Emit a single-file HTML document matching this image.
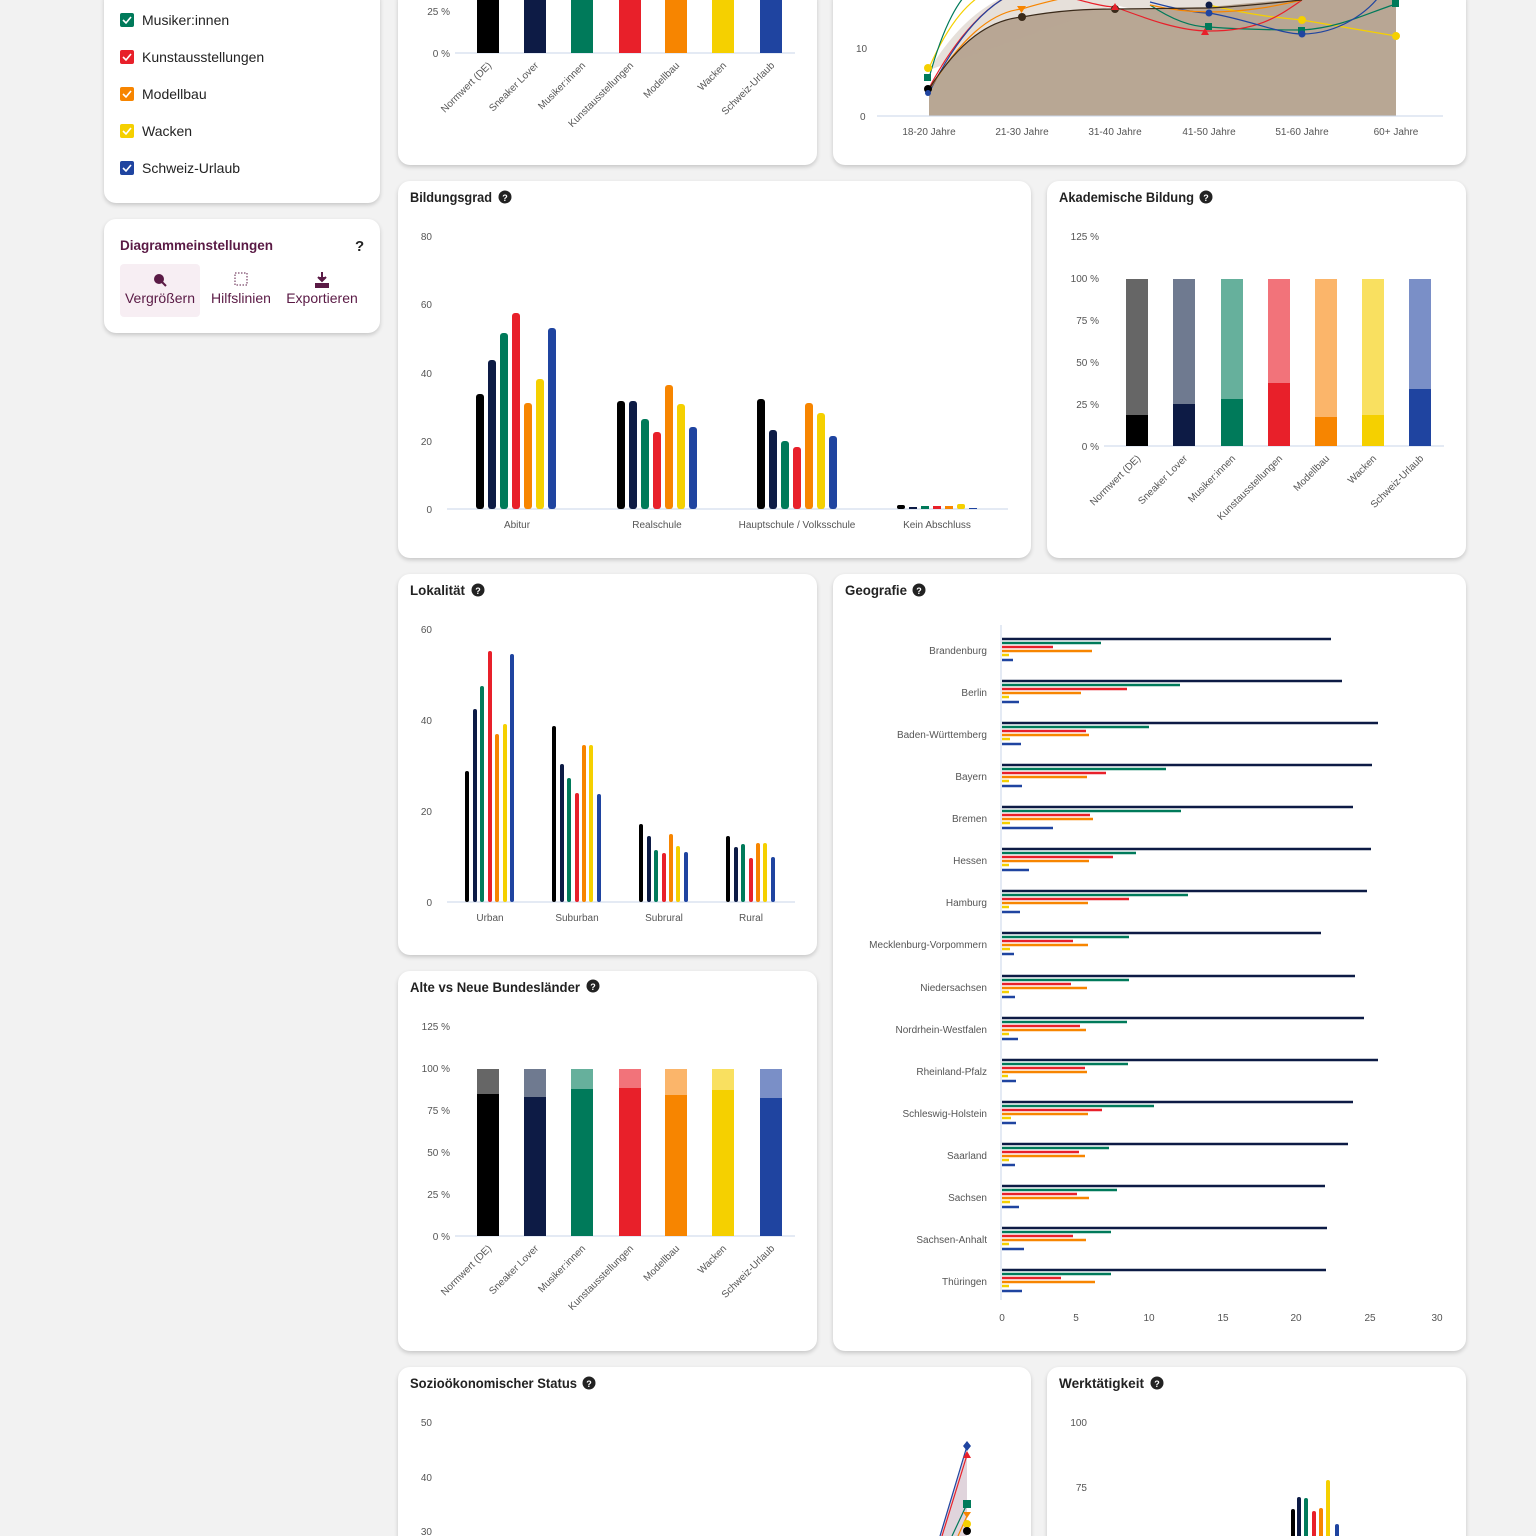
<!DOCTYPE html>
<html style="width:1536px;height:1536px;overflow:hidden"><head><meta charset="utf-8"><style>
body{margin:0;width:1536px;height:1536px;background:#f2f2f2;position:relative;overflow:hidden;font-family:"Liberation Sans",sans-serif}
.c{position:absolute;background:#fff;border-radius:12px;box-shadow:0 2px 4px rgba(0,0,0,.18)}
svg{position:absolute;left:0;top:0}
text{font-family:"Liberation Sans",sans-serif}
.ax{font-size:10px;fill:#555}
.t{font-size:13.5px;font-weight:bold;fill:#222}
</style></head><body>
<div class="c" style="left:104px;top:-12px;width:276px;height:215px"></div>
<div class="c" style="left:104px;top:219px;width:276px;height:114px"></div>
<div class="c" style="left:398px;top:-12px;width:419px;height:177px"></div>
<div class="c" style="left:833px;top:-12px;width:633px;height:177px"></div>
<div class="c" style="left:398px;top:181px;width:633px;height:377px"></div>
<div class="c" style="left:1047px;top:181px;width:419px;height:377px"></div>
<div class="c" style="left:398px;top:574px;width:419px;height:381px"></div>
<div class="c" style="left:398px;top:971px;width:419px;height:380px"></div>
<div class="c" style="left:833px;top:574px;width:633px;height:777px"></div>
<div class="c" style="left:398px;top:1367px;width:633px;height:190px"></div>
<div class="c" style="left:1047px;top:1367px;width:419px;height:190px"></div>
<svg width="1536" height="1536" viewBox="0 0 1536 1536">
<!-- legend -->
<g font-size="14" fill="#222">
<rect x="120" y="13" width="14" height="14" rx="2" fill="#007a5a"/><text x="142" y="25">Musiker:innen</text>
<rect x="120" y="50" width="14" height="14" rx="2" fill="#e8202a"/><text x="142" y="62">Kunstausstellungen</text>
<rect x="120" y="87" width="14" height="14" rx="2" fill="#f78500"/><text x="142" y="99">Modellbau</text>
<rect x="120" y="124" width="14" height="14" rx="2" fill="#f5d000"/><text x="142" y="136">Wacken</text>
<rect x="120" y="161" width="14" height="14" rx="2" fill="#1f44a0"/><text x="142" y="173">Schweiz-Urlaub</text>
</g>
<g fill="none" stroke="#fff" stroke-width="1.6"><path d="M123 20l3 3 5-6"/><path d="M123 57l3 3 5-6"/><path d="M123 94l3 3 5-6"/><path d="M123 131l3 3 5-6"/><path d="M123 168l3 3 5-6"/></g>
<!-- settings -->
<text x="120" y="250" font-size="13.5" font-weight="bold" fill="#5a1a45">Diagrammeinstellungen</text>
<text x="355" y="251" font-size="15" font-weight="bold" fill="#222">?</text>
<rect x="120" y="264" width="80" height="53" rx="4" fill="#f7eef3"/>
<circle cx="159" cy="279" r="5" fill="#5a1a45"/><path d="M162 282l4 4" stroke="#5a1a45" stroke-width="2"/>
<rect x="235" y="273" width="12" height="12" fill="none" stroke="#5a1a45" stroke-dasharray="1.5 1.5"/>
<path d="M322 272v9M318 277l4 4 4-4M316 284h12v3h-12z" stroke="#5a1a45" stroke-width="2" fill="#5a1a45"/>
<g font-size="14" fill="#5a1a45" text-anchor="middle"><text x="160" y="303">Vergrößern</text><text x="241" y="303">Hilfslinien</text><text x="322" y="303">Exportieren</text></g>
<!-- top middle -->
<text class="ax" x="450" y="15" text-anchor="end">25 %</text><text class="ax" x="450" y="57" text-anchor="end">0 %</text>
<line x1="455" y1="53" x2="795" y2="53" stroke="#c8d4e8"/>
<g><rect x="477" y="-5" width="22" height="58" fill="#000"/><rect x="524" y="-5" width="22" height="58" fill="#0d1b45"/><rect x="571" y="-5" width="22" height="58" fill="#007a5a"/><rect x="619" y="-5" width="22" height="58" fill="#e8202a"/><rect x="665" y="-5" width="22" height="58" fill="#f78500"/><rect x="712" y="-5" width="22" height="58" fill="#f5d000"/><rect x="760" y="-5" width="22" height="58" fill="#1f44a0"/></g>
<g class="ax" text-anchor="end">
<text transform="translate(492,66) rotate(-45)">Normwert (DE)</text><text transform="translate(539,66) rotate(-45)">Sneaker Lover</text><text transform="translate(586,66) rotate(-45)">Musiker:innen</text><text transform="translate(634,66) rotate(-45)">Kunstausstellungen</text><text transform="translate(680,66) rotate(-45)">Modellbau</text><text transform="translate(727,66) rotate(-45)">Wacken</text><text transform="translate(775,66) rotate(-45)">Schweiz-Urlaub</text></g>
<!-- age -->
<text class="ax" x="856" y="52">10</text><text class="ax" x="860" y="120">0</text>
<path d="M929 90 C960 40 990 20 1022 17 C1060 10 1090 9 1115 9 L1209 7 C1250 3 1280 0 1302 0 L1396 0 L1396 116 L929 116Z" fill="#b8a794"/>
<path d="M929 70 C960 20 990 0 1022 -10 L1396 -10 L1396 30 L1302 30 L1209 27 L1115 5 Z" fill="#b8a794" opacity=".35"/>
<line x1="877" y1="116" x2="1443" y2="116" stroke="#c8d4e8"/>
<g fill="none" stroke-width="1.2">
<path d="M929 68 C950 20 970 0 990 -10 M1209 5 C1250 15 1280 18 1302 20 L1396 36" stroke="#f5d000"/>
<path d="M929 78 C945 20 960 0 970 -10 M1150 5 C1180 25 1200 27 1209 27 C1250 30 1280 30 1302 30 C1340 28 1370 12 1396 4" stroke="#007a5a"/>
<path d="M929 88 C960 30 990 5 1010 -5 M1060 -5 C1090 3 1105 7 1115 7 C1150 20 1180 31 1209 31 C1260 31 1280 15 1302 0" stroke="#e8202a"/>
<path d="M929 93 C960 30 990 5 1010 -5 M1150 2 C1180 10 1200 13 1209 13 C1250 20 1280 34 1302 34 C1340 34 1370 10 1380 -5" stroke="#1f44a0"/>
<path d="M929 90 C960 40 990 12 1022 9 C1050 0 1080 -5 1090 -8 M1150 5 C1180 12 1200 12 1209 12 C1250 12 1280 5 1302 0" stroke="#f78500"/>
<path d="M929 89 C960 40 990 20 1022 17 C1060 10 1090 9 1115 9 L1209 8 C1250 6 1280 2 1302 0" stroke="#3a2a1a"/>
</g>
<circle cx="928" cy="68" r="4" fill="#f5d000"/><rect x="924" y="74" width="7" height="7" fill="#007a5a"/><circle cx="928" cy="89" r="4" fill="#000"/><circle cx="928" cy="93" r="3" fill="#1f44a0"/>
<circle cx="1022" cy="17" r="4" fill="#3a2a1a"/><path d="M1017 6h9l-4.5 7z" fill="#f78500"/><circle cx="1115" cy="9" r="4" fill="#3a2a1a"/><path d="M1115 3l4 7h-8z" fill="#e8202a"/>
<rect x="1205" y="23" width="7" height="7" fill="#007a5a"/><path d="M1205 28l4 7h-8z" fill="#e8202a"/><circle cx="1209" cy="13" r="3.5" fill="#1f44a0"/><circle cx="1209" cy="5" r="3.5" fill="#0d1b45"/>
<rect x="1298" y="27" width="7" height="7" fill="#007a5a"/><circle cx="1302" cy="20" r="4" fill="#f5d000"/><circle cx="1302" cy="34" r="3.5" fill="#1f44a0"/>
<circle cx="1396" cy="36" r="4" fill="#f5d000"/><rect x="1392" y="0" width="7" height="7" fill="#007a5a"/>
<g class="ax" text-anchor="middle"><text x="929" y="135">18-20 Jahre</text><text x="1022" y="135">21-30 Jahre</text><text x="1115" y="135">31-40 Jahre</text><text x="1209" y="135">41-50 Jahre</text><text x="1302" y="135">51-60 Jahre</text><text x="1396" y="135">60+ Jahre</text></g>
<!-- Bildungsgrad -->
<text class="t" x="410" y="202" textLength="82" lengthAdjust="spacingAndGlyphs">Bildungsgrad</text><circle cx="505" cy="197" r="6.5" fill="#222"/><text x="505" y="201" font-size="9" fill="#fff" text-anchor="middle" font-weight="bold">?</text>
<g class="ax" text-anchor="end"><text x="432" y="240">80</text><text x="432" y="308">60</text><text x="432" y="377">40</text><text x="432" y="445">20</text><text x="432" y="513">0</text></g>
<line x1="447" y1="509" x2="1008" y2="509" stroke="#c8d4e8"/>
<g>
<rect x="476" y="394" width="8" height="115" rx="3" fill="#000"/><rect x="488" y="360" width="8" height="149" rx="3" fill="#0d1b45"/><rect x="500" y="333" width="8" height="176" rx="3" fill="#007a5a"/><rect x="512" y="313" width="8" height="196" rx="3" fill="#e8202a"/><rect x="524" y="403" width="8" height="106" rx="3" fill="#f78500"/><rect x="536" y="379" width="8" height="130" rx="3" fill="#f5d000"/><rect x="548" y="328" width="8" height="181" rx="3" fill="#1f44a0"/>
<rect x="617" y="401" width="8" height="108" rx="3" fill="#000"/><rect x="629" y="401" width="8" height="108" rx="3" fill="#0d1b45"/><rect x="641" y="419" width="8" height="90" rx="3" fill="#007a5a"/><rect x="653" y="432" width="8" height="77" rx="3" fill="#e8202a"/><rect x="665" y="385" width="8" height="124" rx="3" fill="#f78500"/><rect x="677" y="404" width="8" height="105" rx="3" fill="#f5d000"/><rect x="689" y="427" width="8" height="82" rx="3" fill="#1f44a0"/>
<rect x="757" y="399" width="8" height="110" rx="3" fill="#000"/><rect x="769" y="430" width="8" height="79" rx="3" fill="#0d1b45"/><rect x="781" y="441" width="8" height="68" rx="3" fill="#007a5a"/><rect x="793" y="447" width="8" height="62" rx="3" fill="#e8202a"/><rect x="805" y="403" width="8" height="106" rx="3" fill="#f78500"/><rect x="817" y="413" width="8" height="96" rx="3" fill="#f5d000"/><rect x="829" y="436" width="8" height="73" rx="3" fill="#1f44a0"/>
<rect x="897" y="505" width="8" height="4" rx="2" fill="#000"/><rect x="909" y="507" width="8" height="2" fill="#0d1b45"/><rect x="921" y="506" width="8" height="3" fill="#007a5a"/><rect x="933" y="506" width="8" height="3" fill="#e8202a"/><rect x="945" y="506" width="8" height="3" fill="#f78500"/><rect x="957" y="504" width="8" height="5" rx="2" fill="#f5d000"/><rect x="969" y="508" width="8" height="1" fill="#1f44a0"/>
</g>
<g class="ax" text-anchor="middle"><text x="517" y="528">Abitur</text><text x="657" y="528">Realschule</text><text x="797" y="528">Hauptschule / Volksschule</text><text x="937" y="528">Kein Abschluss</text></g>
<!-- Akademische -->
<text class="t" x="1059" y="202" textLength="135" lengthAdjust="spacingAndGlyphs">Akademische Bildung</text><circle cx="1206" cy="197" r="6.5" fill="#222"/><text x="1206" y="201" font-size="9" fill="#fff" text-anchor="middle" font-weight="bold">?</text>
<g class="ax" text-anchor="end"><text x="1099" y="240">125 %</text><text x="1099" y="282">100 %</text><text x="1099" y="324">75 %</text><text x="1099" y="366">50 %</text><text x="1099" y="408">25 %</text><text x="1099" y="450">0 %</text></g>
<line x1="1104" y1="446" x2="1444" y2="446" stroke="#c8d4e8"/>
<g>
<rect x="1126" y="279" width="22" height="167" fill="#666"/><rect x="1126" y="415" width="22" height="31" fill="#000"/>
<rect x="1173" y="279" width="22" height="167" fill="#6f7a90"/><rect x="1173" y="404" width="22" height="42" fill="#0d1b45"/>
<rect x="1221" y="279" width="22" height="167" fill="#66b09c"/><rect x="1221" y="399" width="22" height="47" fill="#007a5a"/>
<rect x="1268" y="279" width="22" height="167" fill="#f2737a"/><rect x="1268" y="383" width="22" height="63" fill="#e8202a"/>
<rect x="1315" y="279" width="22" height="167" fill="#fbb56a"/><rect x="1315" y="417" width="22" height="29" fill="#f78500"/>
<rect x="1362" y="279" width="22" height="167" fill="#f9e060"/><rect x="1362" y="415" width="22" height="31" fill="#f5d000"/>
<rect x="1409" y="279" width="22" height="167" fill="#7a8fc7"/><rect x="1409" y="389" width="22" height="57" fill="#1f44a0"/>
</g>
<g class="ax" text-anchor="end">
<text transform="translate(1141,459) rotate(-45)">Normwert (DE)</text><text transform="translate(1188,459) rotate(-45)">Sneaker Lover</text><text transform="translate(1236,459) rotate(-45)">Musiker:innen</text><text transform="translate(1283,459) rotate(-45)">Kunstausstellungen</text><text transform="translate(1330,459) rotate(-45)">Modellbau</text><text transform="translate(1377,459) rotate(-45)">Wacken</text><text transform="translate(1424,459) rotate(-45)">Schweiz-Urlaub</text></g>
<!-- Lokalität -->
<text class="t" x="410" y="595" textLength="55" lengthAdjust="spacingAndGlyphs">Lokalität</text><circle cx="478" cy="590" r="6.5" fill="#222"/><text x="478" y="594" font-size="9" fill="#fff" text-anchor="middle" font-weight="bold">?</text>
<g class="ax" text-anchor="end"><text x="432" y="633">60</text><text x="432" y="724">40</text><text x="432" y="815">20</text><text x="432" y="906">0</text></g>
<line x1="447" y1="902" x2="795" y2="902" stroke="#c8d4e8"/>
<g>
<rect x="465" y="771" width="4" height="131" rx="2" fill="#000"/><rect x="473" y="709" width="4" height="193" rx="2" fill="#0d1b45"/><rect x="480" y="686" width="4" height="216" rx="2" fill="#007a5a"/><rect x="488" y="651" width="4" height="251" rx="2" fill="#e8202a"/><rect x="495" y="734" width="4" height="168" rx="2" fill="#f78500"/><rect x="503" y="724" width="4" height="178" rx="2" fill="#f5d000"/><rect x="510" y="654" width="4" height="248" rx="2" fill="#1f44a0"/>
<rect x="552" y="726" width="4" height="176" rx="2" fill="#000"/><rect x="560" y="764" width="4" height="138" rx="2" fill="#0d1b45"/><rect x="567" y="778" width="4" height="124" rx="2" fill="#007a5a"/><rect x="575" y="793" width="4" height="109" rx="2" fill="#e8202a"/><rect x="582" y="745" width="4" height="157" rx="2" fill="#f78500"/><rect x="589" y="745" width="4" height="157" rx="2" fill="#f5d000"/><rect x="597" y="794" width="4" height="108" rx="2" fill="#1f44a0"/>
<rect x="639" y="824" width="4" height="78" rx="2" fill="#000"/><rect x="647" y="836" width="4" height="66" rx="2" fill="#0d1b45"/><rect x="654" y="850" width="4" height="52" rx="2" fill="#007a5a"/><rect x="662" y="853" width="4" height="49" rx="2" fill="#e8202a"/><rect x="669" y="834" width="4" height="68" rx="2" fill="#f78500"/><rect x="676" y="846" width="4" height="56" rx="2" fill="#f5d000"/><rect x="684" y="852" width="4" height="50" rx="2" fill="#1f44a0"/>
<rect x="726" y="836" width="4" height="66" rx="2" fill="#000"/><rect x="734" y="847" width="4" height="55" rx="2" fill="#0d1b45"/><rect x="741" y="844" width="4" height="58" rx="2" fill="#007a5a"/><rect x="749" y="858" width="4" height="44" rx="2" fill="#e8202a"/><rect x="756" y="843" width="4" height="59" rx="2" fill="#f78500"/><rect x="763" y="843" width="4" height="59" rx="2" fill="#f5d000"/><rect x="771" y="857" width="4" height="45" rx="2" fill="#1f44a0"/>
</g>
<g class="ax" text-anchor="middle"><text x="490" y="921">Urban</text><text x="577" y="921">Suburban</text><text x="664" y="921">Subrural</text><text x="751" y="921">Rural</text></g>
<!-- Alte vs Neue -->
<text class="t" x="410" y="992" textLength="170" lengthAdjust="spacingAndGlyphs">Alte vs Neue Bundesländer</text><circle cx="593" cy="986" r="6.5" fill="#222"/><text x="593" y="990" font-size="9" fill="#fff" text-anchor="middle" font-weight="bold">?</text>
<g class="ax" text-anchor="end"><text x="450" y="1030">125 %</text><text x="450" y="1072">100 %</text><text x="450" y="1114">75 %</text><text x="450" y="1156">50 %</text><text x="450" y="1198">25 %</text><text x="450" y="1240">0 %</text></g>
<line x1="455" y1="1236" x2="795" y2="1236" stroke="#c8d4e8"/>
<g>
<rect x="477" y="1069" width="22" height="167" fill="#666"/><rect x="477" y="1094" width="22" height="142" fill="#000"/>
<rect x="524" y="1069" width="22" height="167" fill="#6f7a90"/><rect x="524" y="1097" width="22" height="139" fill="#0d1b45"/>
<rect x="571" y="1069" width="22" height="167" fill="#66b09c"/><rect x="571" y="1089" width="22" height="147" fill="#007a5a"/>
<rect x="619" y="1069" width="22" height="167" fill="#f2737a"/><rect x="619" y="1088" width="22" height="148" fill="#e8202a"/>
<rect x="665" y="1069" width="22" height="167" fill="#fbb56a"/><rect x="665" y="1095" width="22" height="141" fill="#f78500"/>
<rect x="712" y="1069" width="22" height="167" fill="#f9e060"/><rect x="712" y="1090" width="22" height="146" fill="#f5d000"/>
<rect x="760" y="1069" width="22" height="167" fill="#7a8fc7"/><rect x="760" y="1098" width="22" height="138" fill="#1f44a0"/>
</g>
<g class="ax" text-anchor="end">
<text transform="translate(492,1249) rotate(-45)">Normwert (DE)</text><text transform="translate(539,1249) rotate(-45)">Sneaker Lover</text><text transform="translate(586,1249) rotate(-45)">Musiker:innen</text><text transform="translate(634,1249) rotate(-45)">Kunstausstellungen</text><text transform="translate(680,1249) rotate(-45)">Modellbau</text><text transform="translate(727,1249) rotate(-45)">Wacken</text><text transform="translate(775,1249) rotate(-45)">Schweiz-Urlaub</text></g>
<!-- Geografie -->
<text class="t" x="845" y="595" textLength="62" lengthAdjust="spacingAndGlyphs">Geografie</text><circle cx="919" cy="590" r="6.5" fill="#222"/><text x="919" y="594" font-size="9" fill="#fff" text-anchor="middle" font-weight="bold">?</text>
<line x1="1001" y1="625" x2="1001" y2="1300" stroke="#c8d4e8"/>
<g class="ax" text-anchor="end">
<text x="987" y="654">Brandenburg</text><text x="987" y="696">Berlin</text><text x="987" y="738">Baden-Württemberg</text><text x="987" y="780">Bayern</text><text x="987" y="822">Bremen</text><text x="987" y="864">Hessen</text><text x="987" y="906">Hamburg</text><text x="987" y="948">Mecklenburg-Vorpommern</text><text x="987" y="991">Niedersachsen</text><text x="987" y="1033">Nordrhein-Westfalen</text><text x="987" y="1075">Rheinland-Pfalz</text><text x="987" y="1117">Schleswig-Holstein</text><text x="987" y="1159">Saarland</text><text x="987" y="1201">Sachsen</text><text x="987" y="1243">Sachsen-Anhalt</text><text x="987" y="1285">Thüringen</text></g>
<g class="ax" text-anchor="middle"><text x="1002" y="1321">0</text><text x="1076" y="1321">5</text><text x="1149" y="1321">10</text><text x="1223" y="1321">15</text><text x="1296" y="1321">20</text><text x="1370" y="1321">25</text><text x="1437" y="1321">30</text></g>
<g stroke-width="2.5">
<g stroke="#0d1b45"><path d="M1002 639H1331M1002 681H1342M1002 723H1378M1002 765H1372M1002 807H1353M1002 849H1371M1002 891H1367M1002 933H1321M1002 976H1355M1002 1018H1364M1002 1060H1378M1002 1102H1353M1002 1144H1348M1002 1186H1325M1002 1228H1327M1002 1270H1326"/></g>
<g stroke="#007a5a"><path d="M1002 643H1101M1002 685H1180M1002 727H1149M1002 769H1166M1002 811H1181M1002 853H1136M1002 895H1188M1002 937H1129M1002 980H1129M1002 1022H1127M1002 1064H1128M1002 1106H1154M1002 1148H1109M1002 1190H1117M1002 1232H1111M1002 1274H1111"/></g>
<g stroke="#e8202a"><path d="M1002 647H1053M1002 689H1127M1002 731H1086M1002 773H1106M1002 815H1090M1002 857H1113M1002 899H1129M1002 941H1073M1002 984H1071M1002 1026H1080M1002 1068H1085M1002 1110H1102M1002 1152H1079M1002 1194H1077M1002 1236H1073M1002 1278H1061"/></g>
<g stroke="#f78500"><path d="M1002 651H1092M1002 693H1081M1002 735H1089M1002 777H1087M1002 819H1093M1002 861H1089M1002 903H1088M1002 945H1088M1002 988H1087M1002 1030H1086M1002 1072H1087M1002 1114H1088M1002 1156H1085M1002 1198H1089M1002 1240H1086M1002 1282H1095"/></g>
<g stroke="#f5d000"><path d="M1002 655H1009M1002 697H1009M1002 739H1010M1002 781H1009M1002 823H1010M1002 865H1009M1002 907H1009M1002 949H1010M1002 992H1009M1002 1034H1009M1002 1076H1008M1002 1118H1011M1002 1160H1009M1002 1202H1010M1002 1244H1009M1002 1286H1009"/></g>
<g stroke="#1f44a0"><path d="M1002 660H1013M1002 702H1019M1002 744H1021M1002 786H1022M1002 828H1053M1002 870H1029M1002 912H1020M1002 954H1014M1002 997H1015M1002 1039H1018M1002 1081H1016M1002 1123H1016M1002 1165H1015M1002 1207H1019M1002 1249H1024M1002 1291H1022"/></g>
</g>
<!-- Sozio -->
<text class="t" x="410" y="1388" textLength="167" lengthAdjust="spacingAndGlyphs">Sozioökonomischer Status</text><circle cx="589" cy="1383" r="6.5" fill="#222"/><text x="589" y="1387" font-size="9" fill="#fff" text-anchor="middle" font-weight="bold">?</text>
<g class="ax" text-anchor="end"><text x="432" y="1426">50</text><text x="432" y="1481">40</text><text x="432" y="1535">30</text></g>
<path d="M940 1536 L967 1448 L967 1536Z" fill="#e0d4dc"/>
<g fill="none" stroke-width="1.2"><path d="M940 1536L967 1446" stroke="#1f44a0"/><path d="M942 1536L967 1455" stroke="#e8202a"/><path d="M952 1536L967 1504" stroke="#007a5a"/><path d="M958 1536L967 1516" stroke="#f78500"/></g>
<path d="M967 1441l4 5-4 5-4-5z" fill="#1f44a0"/><path d="M967 1451l4 7h-8z" fill="#e8202a"/><rect x="963" y="1500" width="8" height="8" fill="#007a5a"/><path d="M963 1512h8l-4 6z" fill="#f78500"/><circle cx="967" cy="1524" r="4" fill="#f5d000"/><circle cx="967" cy="1531" r="4" fill="#000"/>
<!-- Werk -->
<text class="t" x="1059" y="1388" textLength="85" lengthAdjust="spacingAndGlyphs">Werktätigkeit</text><circle cx="1157" cy="1383" r="6.5" fill="#222"/><text x="1157" y="1387" font-size="9" fill="#fff" text-anchor="middle" font-weight="bold">?</text>
<g class="ax" text-anchor="end"><text x="1087" y="1426">100</text><text x="1087" y="1491">75</text></g>
<g><rect x="1291" y="1509" width="4" height="30" rx="2" fill="#000"/><rect x="1297" y="1497" width="4" height="42" rx="2" fill="#0d1b45"/><rect x="1304" y="1498" width="4" height="41" rx="2" fill="#007a5a"/><rect x="1312" y="1511" width="4" height="28" rx="2" fill="#e8202a"/><rect x="1319" y="1508" width="4" height="31" rx="2" fill="#f78500"/><rect x="1326" y="1480" width="4" height="59" rx="2" fill="#f5d000"/><rect x="1335" y="1524" width="4" height="15" rx="2" fill="#1f44a0"/></g>
</svg>
</body></html>
